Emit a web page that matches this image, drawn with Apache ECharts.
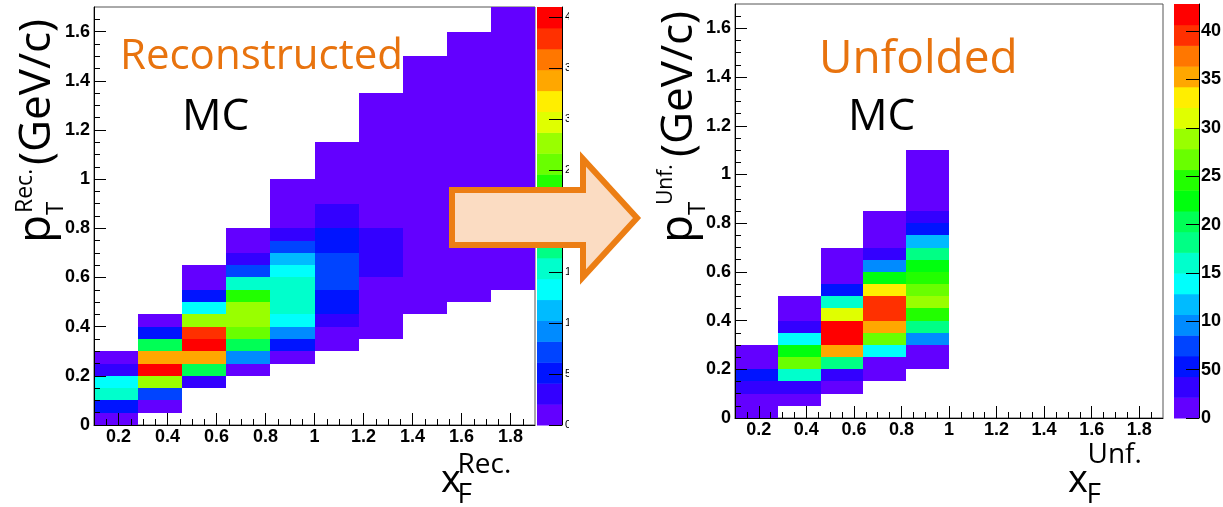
<!DOCTYPE html>
<html><head><meta charset="utf-8">
<script src="https://cdn.jsdelivr.net/npm/echarts@6/dist/echarts.min.js"></script>
<style>html,body{margin:0;padding:0;background:#fff}#c{width:1223px;height:507px}</style>
</head><body><div id="c"></div>
<script>
// ---------------- data ----------------
const xTickLabels = [0.2, 0.4, 0.6, 0.8, 1, 1.2, 1.4, 1.6, 1.8];
const yTickLabels = [0, 0.2, 0.4, 0.6, 0.8, 1, 1.2, 1.4, 1.6];
const recoZTicks = [0, 50, 100, 150, 200, 250, 300, 350, 400];
const unfZTicks = [0, 50, 100, 150, 200, 250, 300, 350, 400];
const recoZMax = 410;
const unfZMax = 428;
// histogram binning: 10 bins in xF from 0.1, 34 bins in pT from 0
const xfMin = 0.1, xfBin = 0.18, ptMin = 0, ptBin = 0.05;

// Reconstructed MC: first filled pT bin of each xF column, then counts upward
const recoFirstPtBin = [0, 1, 3, 4, 5, 6, 7, 9, 10, 11];
const recoCounts = [
  [6, 52, 155, 136, 30, 9],
  [12, 74, 280, 410, 342, 198, 50, 14],
  [35, 196, 340, 398, 380, 283, 133, 55, 16, 10],
  [15, 95, 190, 262, 285, 278, 240, 160, 70, 28, 12, 8],
  [14, 48, 90, 130, 150, 158, 152, 135, 110, 68, 32, 15, 10, 7, 5],
  [12, 18, 36, 55, 60, 66, 78, 70, 58, 50, 38, 30, 18, 12, 8, 6, 4],
  [6, 10, 14, 17, 19, 24, 28, 30, 26, 19, 16, 14, 12, 10, 8, 6, 5, 4, 3, 2],
  [3, 6, 9, 12, 14, 15, 16, 16, 15, 14, 13, 12, 10, 9, 8, 7, 6, 5, 4, 3, 2],
  [2, 4, 6, 8, 10, 11, 12, 12, 12, 11, 10, 9, 9, 8, 7, 6, 5, 4, 4, 3, 2, 2],
  [2, 3, 4, 6, 7, 8, 9, 9, 9, 9, 8, 8, 7, 7, 6, 5, 5, 4, 4, 3, 3, 2, 2]
];
// Unfolded MC
const unfFirstPtBin = [0, 1, 2, 3, 4];
const unfCounts = [
  [12, 18, 35, 55, 16, 8],
  [14, 36, 165, 272, 230, 140, 30, 15, 10],
  [16, 38, 185, 355, 428, 415, 312, 162, 52, 18, 12, 8],
  [10, 18, 140, 270, 352, 398, 402, 335, 225, 95, 35, 16, 12, 8],
  [8, 16, 98, 182, 245, 290, 268, 250, 228, 180, 120, 55, 32, 18, 14, 12, 10, 8]
];

// ---------------- style ----------------
const PALETTE = ['#6300ff','#3300ff','#0014ff','#0044ff','#008bff','#00bbff','#00fffc','#00ffcc',
  '#00ff85','#00ff55','#00ff0e','#22ff00','#69ff00','#99ff00','#e0ff00','#ffee00','#ffa700',
  '#ff7700','#ff3000','#ff0000'];
const NLEV = PALETTE.length;
function colorFor(v, zmax) {
  let k = Math.floor(0.01 + v / zmax * NLEV);
  if (k > NLEV - 1) k = NLEV - 1;
  if (k < 0) k = 0;
  return PALETTE[k];
}
function buildCells(first, counts) {
  const out = [];
  counts.forEach((col, i) => {
    col.forEach((v, n) => {
      const j = first[i] + n;
      out.push([+(xfMin + (i + 0.5) * xfBin).toFixed(4), +(ptMin + (j + 0.5) * ptBin).toFixed(4), v]);
    });
  });
  return out;
}
function steps(a, b, s) { const r = []; for (let v = a; v <= b + 1e-9; v += s) r.push(Math.round(v * 1000) / 1000); return r; }
const xMinor = steps(0.15, 1.85, 0.05);
const yMinor = steps(0.05, 1.65, 0.05);

function cellRenderer(zmax) {
  return function (params, api) {
    const xc = api.value(0), yc = api.value(1), v = api.value(2);
    const p0 = api.coord([xc - xfBin / 2, yc - ptBin / 2]);
    const p1 = api.coord([xc + xfBin / 2, yc + ptBin / 2]);
    const x0 = Math.round(p0[0]), x1 = Math.round(p1[0]);
    const yb = Math.round(p0[1]), yt = Math.round(p1[1]);
    return { type: 'rect', shape: { x: x0, y: yt, width: x1 - x0, height: yb - yt },
      style: { fill: colorFor(v, zmax) } };
  };
}
function barRenderer(zmax) {
  return function (params, api) {
    const k = api.value(2);
    const d = zmax / NLEV;
    const p0 = api.coord([0, k * d]);
    const p1 = api.coord([1, (k + 1) * d]);
    return { type: 'rect', shape: { x: p0[0], y: p1[1], width: p1[0] - p0[0], height: p0[1] - p1[1] + 0.5 },
      style: { fill: PALETTE[k] } };
  };
}
function barData(zmax) { return PALETTE.map((c, k) => [0.5, (k + 0.5) * zmax / NLEV, k]); }

const LBL = { color: '#000', fontFamily: 'Liberation Sans', fontWeight: 'bold', fontSize: 18 };
function mainX(gi, m) {
  return { type: 'value', gridIndex: gi, min: 0.1, max: 1.9, position: 'bottom', z: 5,
    axisLine: { show: true, onZero: false, lineStyle: { color: '#000', width: 1 } },
    axisTick: { show: true, inside: true, length: 12, customValues: xTickLabels, lineStyle: { color: '#000', width: 1 } },
    axisLabel: Object.assign({ show: true, customValues: xTickLabels, margin: m }, LBL),
    splitLine: { show: false } };
}
function minorX(gi) {
  return { type: 'value', gridIndex: gi, min: 0.1, max: 1.9, position: 'bottom', z: 5,
    axisLine: { show: false, onZero: false },
    axisTick: { show: true, inside: true, length: 6, customValues: xMinor, lineStyle: { color: '#000', width: 1 } },
    axisLabel: { show: false }, splitLine: { show: false } };
}
function mainY(gi, m) {
  return { type: 'value', gridIndex: gi, min: 0, max: 1.7, position: 'left', z: 5,
    axisLine: { show: true, onZero: false, lineStyle: { color: '#000', width: 1 } },
    axisTick: { show: true, inside: true, length: 12, customValues: yTickLabels, lineStyle: { color: '#000', width: 1 } },
    axisLabel: Object.assign({ show: true, customValues: yTickLabels, margin: m }, LBL),
    splitLine: { show: false } };
}
function minorY(gi) {
  return { type: 'value', gridIndex: gi, min: 0, max: 1.7, position: 'left', z: 5,
    axisLine: { show: false, onZero: false },
    axisTick: { show: true, inside: true, length: 6, customValues: yMinor, lineStyle: { color: '#000', width: 1 } },
    axisLabel: { show: false }, splitLine: { show: false } };
}
function barX(gi) { return { type: 'value', gridIndex: gi, min: 0, max: 1, show: false }; }
function barY(gi, zmax, ticks, lbl, m) {
  return { type: 'value', gridIndex: gi, min: 0, max: zmax, position: 'right', z: 5,
    axisLine: { show: true, onZero: false, lineStyle: { color: '#000', width: 1 } },
    axisTick: { show: true, inside: true, length: 13, customValues: ticks, lineStyle: { color: '#000', width: 1 } },
    axisLabel: Object.assign({ show: true, customValues: ticks, margin: m }, lbl),
    splitLine: { show: false } };
}

const FONT = '"Open Sans"';
const ORANGE = '#E8730E';
function txt(t, x, y, size, color, extra) {
  return Object.assign({ type: 'text', z: 120, style: { text: t, x: x, y: y, font: size + 'px ' + FONT, fill: color || '#000',
    textAlign: 'left', verticalAlign: 'middle', textVerticalAlign: 'middle' } }, extra || {});
}
const G = { outerBoundsMode: 'none', containLabel: false };

const option = {
  animation: false,
  backgroundColor: '#fff',
  grid: [
    Object.assign({ left: 94, top: 7, width: 441, height: 418, show: true, borderColor: '#555', borderWidth: 1, backgroundColor: 'transparent' }, G),
    Object.assign({ left: 537, top: 7, width: 25, height: 418, show: false }, G),
    Object.assign({ left: 735, top: 4, width: 428, height: 414, show: true, borderColor: '#555', borderWidth: 1, backgroundColor: 'transparent' }, G),
    Object.assign({ left: 1174, top: 4, width: 25, height: 414, show: false }, G)
  ],
  xAxis: [mainX(0, 3), minorX(0), barX(1), mainX(2, 3), minorX(2), barX(3)],
  yAxis: [mainY(0, 4), minorY(0),
    barY(1, recoZMax, recoZTicks, { color: '#000', fontFamily: 'Liberation Sans', fontSize: 11 }, 3),
    mainY(2, 4), minorY(2),
    barY(3, unfZMax, unfZTicks, LBL, 2)],
  series: [
    { type: 'custom', name: 'Reconstructed', xAxisIndex: 0, yAxisIndex: 0, z: 1, data: buildCells(recoFirstPtBin, recoCounts), renderItem: cellRenderer(recoZMax) },
    { type: 'custom', name: 'recoPalette', xAxisIndex: 2, yAxisIndex: 2, z: 1, data: barData(recoZMax), renderItem: barRenderer(recoZMax) },
    { type: 'custom', name: 'Unfolded', xAxisIndex: 3, yAxisIndex: 3, z: 1, data: buildCells(unfFirstPtBin, unfCounts), renderItem: cellRenderer(unfZMax) },
    { type: 'custom', name: 'unfPalette', xAxisIndex: 5, yAxisIndex: 5, z: 1, data: barData(unfZMax), renderItem: barRenderer(unfZMax) }
  ],
  graphic: { elements: [
    // crop of the left picture (hides the clipped palette labels) and right edge crop
    { type: 'rect', z: 100, shape: { x: 569, y: 0, width: 86, height: 445 }, style: { fill: '#fff' } },
    { type: 'rect', z: 100, shape: { x: 1221, y: 0, width: 4, height: 440 }, style: { fill: '#fff' } },
    // arrow
    { type: 'polygon', z: 110, shape: { points: [[452,190],[583,190],[583,159],[637,218],[583,277],[583,245],[452,245]] },
      style: { fill: '#FBDCC2', stroke: '#EC7E14', lineWidth: 6, lineJoin: 'miter' } },
    txt('Reconstructed', 120, 57, 42, ORANGE),
    txt('MC', 182, 117, 44, '#000'),
    txt('Unfolded', 819, 60, 46, ORANGE),
    txt('MC', 848, 117, 44, '#000'),
    // x titles
    txt('x', 441, 481, 38, '#000'),
    txt('F', 457.5, 495, 28, '#000'),
    txt('Rec.', 457.5, 465, 28, '#000'),
    txt('Unf.', 1087.5, 455, 28, '#000'),
    txt('x', 1068, 481, 38, '#000'),
    txt('F', 1086.5, 495, 28, '#000'),
    // y titles (rotated)
    { type: 'group', x: 53, y: 243, rotation: Math.PI / 2, z: 120, children: [
      txt('p', 0, -16, 46, '#000'),
      txt('Rec.', 30, -28, 23, '#000'),
      txt('T', 28, 3, 24, '#000'),
      txt('(GeV/c)', 78, -16, 44, '#000')
    ] },
    { type: 'group', x: 695, y: 243, rotation: Math.PI / 2, z: 120, children: [
      txt('p', 0, -16, 46, '#000'),
      txt('Unf.', 38, -29, 21, '#000'),
      txt('T', 28, 3, 24, '#000'),
      txt('(GeV/c)', 86, -16, 44, '#000')
    ] }
  ] }
};
const chart = echarts.init(document.getElementById('c'));
chart.setOption(option);
</script></body></html>
